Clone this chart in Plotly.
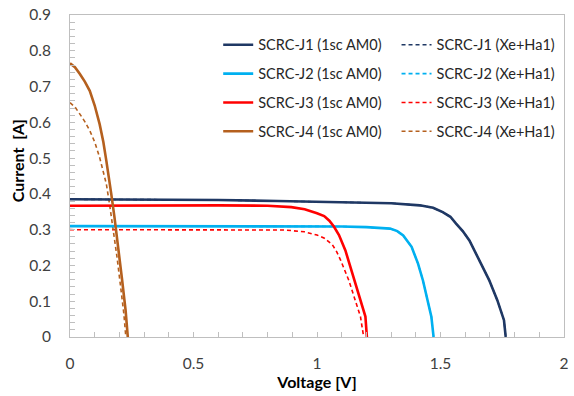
import plotly.graph_objects as go

# ---- data ----
j1_v = [0, 0.2, 0.4, 0.6, 0.84, 1.0, 1.2, 1.3, 1.416, 1.47, 1.509, 1.54, 1.563, 1.59, 1.617, 1.657, 1.697, 1.73, 1.757, 1.764]
j1_i = [0.385, 0.385, 0.384, 0.383, 0.380, 0.378, 0.376, 0.374, 0.368, 0.361, 0.349, 0.336, 0.317, 0.296, 0.270, 0.214, 0.159, 0.103, 0.047, 0]

j2_v = [0, 0.3, 0.6, 0.9, 1.1, 1.2, 1.25, 1.296, 1.325, 1.349, 1.383, 1.409, 1.429, 1.449, 1.463, 1.472]
j2_i = [0.310, 0.310, 0.310, 0.309, 0.309, 0.307, 0.305, 0.303, 0.296, 0.284, 0.252, 0.205, 0.158, 0.103, 0.057, 0]

j3_v = [0, 0.2, 0.4, 0.6, 0.8, 0.896, 0.95, 0.975, 1.0, 1.029, 1.05, 1.069, 1.089, 1.115, 1.135, 1.162, 1.182, 1.196, 1.202]
j3_i = [0.367, 0.368, 0.368, 0.368, 0.367, 0.363, 0.357, 0.352, 0.346, 0.338, 0.325, 0.308, 0.285, 0.242, 0.196, 0.140, 0.094, 0.057, 0]

j4_v = [0, 0.02, 0.04, 0.06, 0.08, 0.1, 0.12, 0.135, 0.147, 0.158, 0.167, 0.18, 0.194, 0.21, 0.225, 0.234]
j4_i = [0.765, 0.754, 0.735, 0.714, 0.688, 0.647, 0.595, 0.545, 0.493, 0.445, 0.400, 0.335, 0.261, 0.165, 0.075, 0]

# Xe+Ha1 measurements (J1, J2 coincide with the AM0 curves)
j1x_v = list(j1_v)
j1x_i = list(j1_i)
j2x_v = list(j2_v)
j2x_i = list(j2_i)

j3x_v = [0, 0.2, 0.4, 0.6, 0.8, 0.87, 0.949, 1.0, 1.03, 1.062, 1.08, 1.096, 1.129, 1.156, 1.176, 1.189]
j3x_i = [0.300, 0.300, 0.300, 0.300, 0.300, 0.299, 0.294, 0.285, 0.276, 0.258, 0.238, 0.214, 0.158, 0.103, 0.057, 0]

j4x_v = [0, 0.02, 0.04, 0.06, 0.08, 0.1, 0.12, 0.135, 0.147, 0.16, 0.174, 0.19, 0.205, 0.218, 0.226]
j4x_i = [0.655, 0.643, 0.623, 0.602, 0.577, 0.545, 0.502, 0.462, 0.428, 0.372, 0.307, 0.225, 0.140, 0.065, 0]

names_am0 = ["SCRC-J1 (1sc AM0)", "SCRC-J2 (1sc AM0)", "SCRC-J3 (1sc AM0)", "SCRC-J4 (1sc AM0)"]
names_xe = ["SCRC-J1 (Xe+Ha1)", "SCRC-J2 (Xe+Ha1)", "SCRC-J3 (Xe+Ha1)", "SCRC-J4 (Xe+Ha1)"]
colors = ["#1F3864", "#00B0F0", "#FF0000", "#B5601E"]

am0 = [(j1_v, j1_i), (j2_v, j2_i), (j3_v, j3_i), (j4_v, j4_i)]
xe = [(j1x_v, j1x_i), (j2x_v, j2x_i), (j3x_v, j3x_i), (j4x_v, j4x_i)]

FONT = "Lato, 'Open Sans', sans-serif"

fig = go.Figure()
# dashed first so solid lines draw on top
for k in range(4):
    v, i = xe[k]
    fig.add_trace(go.Scatter(x=v, y=i, mode="lines", name=names_xe[k],
                             line=dict(color=colors[k], width=1.6, dash="4px,3px"),
                             legend="legend2", legendgroup="x%d" % k, legendrank=k))
for k in range(4):
    v, i = am0[k]
    fig.add_trace(go.Scatter(x=v, y=i, mode="lines", name=names_am0[k],
                             line=dict(color=colors[k], width=2.6),
                             legend="legend", legendgroup="a%d" % k, legendrank=k))

axis_common = dict(showgrid=False, zeroline=False, showline=True, linecolor="#BFBFBF",
                   linewidth=1, mirror=True, ticks="inside", ticklen=5, tickcolor="#BFBFBF",
                   tickfont=dict(family=FONT, size=15.5, color="#404040"))

fig.update_xaxes(range=[0, 2], dtick=0.5, tick0=0, tickformat="~g",
                 minor=dict(dtick=0.1, ticks="inside", ticklen=5, tickcolor="#BFBFBF"),
                 ticklabelstandoff=12,
                 title=dict(text="<b>Voltage [V]</b>", font=dict(family=FONT, size=16, color="#000000"),
                            standoff=4),
                 **axis_common)
fig.update_yaxes(range=[0, 0.9], dtick=0.1, tick0=0, tickformat="~g",
                 minor=dict(dtick=0.02, ticks="inside", ticklen=5, tickcolor="#BFBFBF"),
                 ticklabelstandoff=15,
                 **axis_common)

fig.add_annotation(text="<b>Current  [A]</b>", textangle=-90, xref="paper", yref="paper",
                   x=-0.106, y=0.548, xanchor="center", yanchor="middle", showarrow=False,
                   font=dict(family=FONT, size=16, color="#000000"))

leg_common = dict(bgcolor="rgba(0,0,0,0)", borderwidth=0, orientation="v",
                  font=dict(family=FONT, size=14.5, color="#262626"),
                  tracegroupgap=7, xanchor="left", yanchor="top", itemwidth=30)

fig.update_layout(
    width=574, height=396,
    margin=dict(l=70, r=5, t=14, b=59),
    plot_bgcolor="white", paper_bgcolor="white",
    showlegend=True,
    legend=dict(x=0.30, y=0.957, **leg_common),
    legend2=dict(x=0.661, y=0.957, **leg_common),
)

fig.write_html("out.html")
